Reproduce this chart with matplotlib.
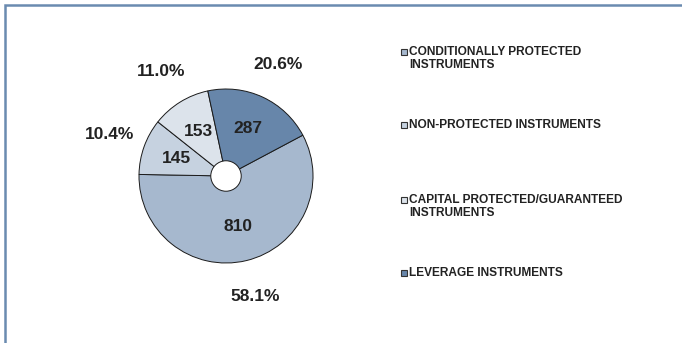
import matplotlib.pyplot as plt
from matplotlib.patches import Rectangle, Circle

labels = ["CONDITIONALLY PROTECTED\nINSTRUMENTS",
          "NON-PROTECTED INSTRUMENTS",
          "CAPITAL PROTECTED/GUARANTEED\nINSTRUMENTS",
          "LEVERAGE INSTRUMENTS"]
values = [810, 145, 153, 287]
colors = ["#A6B8CE", "#C6D2E0", "#DCE3EB", "#6786AA"]

plt.rcParams['font.family'] = ['Liberation Sans', 'DejaVu Sans']
txt = "#222222"

fig = plt.figure(figsize=(6.82, 3.43), dpi=100)

# pie axes, centre ~ (226, 176) px, radius ~87 px
k = 1.6
r_px = 87
ax = fig.add_axes([(226 - k * r_px) / 682, (167 - k * r_px) / 343,
                   2 * k * r_px / 682, 2 * k * r_px / 343])
wedges, texts, autotexts = ax.pie(
    values, labels=[str(v) for v in values], colors=colors,
    startangle=28, counterclock=False, labeldistance=0.6,
    autopct=lambda p: f"{p:.1f}%", pctdistance=1.42,
    wedgeprops=dict(edgecolor="#1a1a1a", linewidth=0.7))
for t in texts:
    t.set_ha("center")
    t.set_fontsize(12.5)
    t.set_fontweight("bold")
    t.set_color(txt)
for t in autotexts:
    t.set_fontsize(12.5)
    t.set_fontweight("bold")
    t.set_color(txt)
ax.add_patch(Circle((0, 0), 0.175, facecolor="white", edgecolor="#1a1a1a", linewidth=0.7))
ax.set_xlim(-k, k)
ax.set_ylim(-k, k)
ax.set_aspect("equal")
ax.axis("off")

# legend drawn by hand
leg_y = [52, 125, 200, 273]
for lab, col, y in zip(labels, colors, leg_y):
    fig.patches.append(Rectangle((401 / 682, 1 - (y + 3) / 343), 6 / 682, 6 / 343,
                                 transform=fig.transFigure, facecolor=col,
                                 edgecolor="#333333", linewidth=0.8))
    fig.text(409 / 682, 1 - (y - 6) / 343, lab, ha="left", va="top",
             fontsize=8.6, fontweight="bold", color=txt, linespacing=1.15)

# outer frame (top and left visible)
fig.patches.append(Rectangle((5 / 682, -0.1), 1.2, 1 - 5 / 343 + 0.1,
                             transform=fig.transFigure, fill=False,
                             edgecolor="#6A8BB0", linewidth=1.8))

fig.savefig("out.png", dpi=100)
